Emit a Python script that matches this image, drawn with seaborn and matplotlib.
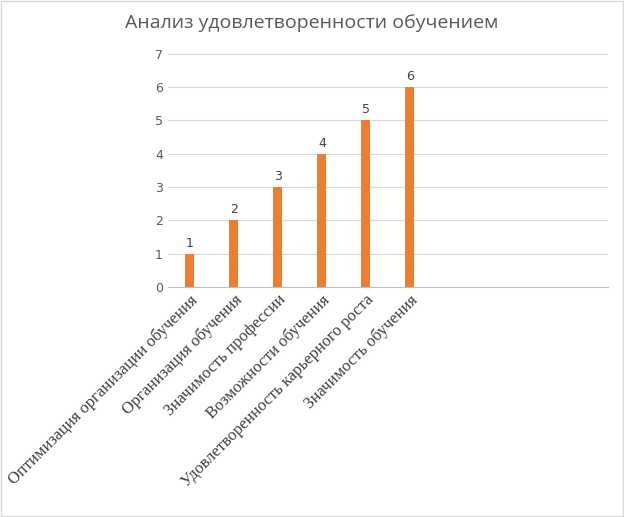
import matplotlib
matplotlib.use("Agg")
import matplotlib.pyplot as plt
import seaborn as sns
import pandas as pd

categories = ["Оптимизация организации обучения", "Организация обучения",
              "Значимость профессии", "Возможности обучения",
              "Удовлетворенность карьерного роста", "Значимость обучения",
              " ", "  ", "   ", "    "]
values = [1, 2, 3, 4, 5, 6, 0, 0, 0, 0]
title = "Анализ удовлетворенности обучением"

df = pd.DataFrame({"cat": categories, "val": values})

fig = plt.figure(figsize=(6.24, 5.17), dpi=100)
ax = fig.add_axes([0.269, 0.445, 0.705, 0.451])
sns.barplot(data=df, x="cat", y="val", color="#ED7D31", width=0.2,
            saturation=1, ax=ax)
for i, v in enumerate(values[:6]):
    ax.text(i, v + 0.12, str(v), ha="center", va="bottom", fontsize=9, color="#404040")

ax.set_ylim(0, 7)
ax.set_yticks(range(8))
ax.set_xlim(-0.5, len(categories) - 0.5)
ax.grid(axis="y", color="#D9D9D9", linewidth=0.8)
ax.set_axisbelow(True)
for s in ["top", "right", "left"]:
    ax.spines[s].set_visible(False)
ax.spines["bottom"].set_color("#BFBFBF")
ax.tick_params(axis="both", length=0, colors="#595959", labelsize=9)
ax.set_xticks(range(len(categories)))
ax.set_xticklabels(categories, rotation=45, ha="right", rotation_mode="anchor",
                   fontfamily="Liberation Serif", fontsize=12, color="#404040")
ax.set_xlabel("")
ax.set_ylabel("")
fig.text(0.5, 0.955, title, ha="center", va="center", fontsize=14, color="#595959",
         fontfamily="Open Sans")
fig.patches.append(plt.Rectangle((0.002, 0.002), 0.996, 0.996, transform=fig.transFigure,
                                 fill=False, edgecolor="#D9D9D9", linewidth=1))
fig.savefig("out.png", dpi=100)
